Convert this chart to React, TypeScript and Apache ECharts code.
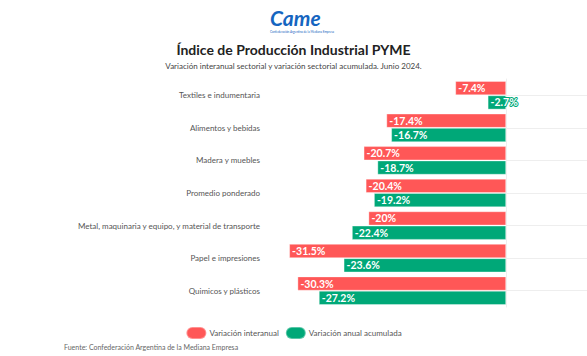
import React, { useEffect, useRef } from "react";
import * as echarts from "echarts";

const categories = [
  "Textiles e indumentaria",
  "Alimentos y bebidas",
  "Madera y muebles",
  "Promedio ponderado",
  "Metal, maquinaria y equipo, y material de transporte",
  "Papel e impresiones",
  "Quimicos y plásticos",
];
const interanual = [-7.4, -17.4, -20.7, -20.4, -20, -31.5, -30.3];
const acumulada = [-2.7, -16.7, -18.7, -19.2, -22.4, -23.6, -27.2];
const seriesNames = ["Variación interanual", "Variación anual acumulada"];
const titleText = "Índice de Producción Industrial PYME";
const subtitleText = "Variación interanual sectorial y variación sectorial acumulada. Junio 2024.";
const sourceText = "Fuente: Confederación Argentina de la Mediana Empresa";

const FONT = "Lato, 'Noto Sans', sans-serif";
const RED = "#ff5757";
const GREEN = "#00a878";

export default function App() {
  const ref = useRef<HTMLDivElement>(null);
  useEffect(() => {
    document.body.style.margin = "0";
    const chart = echarts.init(ref.current!, null, { renderer: "svg" });
    const label = (border: string) => ({
      show: true,
      position: [3, "50%"],
      verticalAlign: "middle",
      align: "left",
      color: "#fff",
      fontWeight: "bold",
      fontSize: 10.5,
      fontFamily: FONT,
      textBorderColor: border,
      textBorderWidth: 2,
      formatter: (p: any) => `${p.value}%`,
    });
    chart.setOption({
      animation: false,
      textStyle: { fontFamily: FONT },
      title: [
        {
          text: titleText,
          subtext: subtitleText,
          left: "center",
          top: 37,
          itemGap: 6,
          textStyle: { fontSize: 14, fontWeight: "bold", color: "#222", fontFamily: FONT },
          subtextStyle: { fontSize: 8, color: "#444", fontFamily: FONT },
        },
      ],
      graphic: [
        {
          type: "text",
          left: 270,
          top: 7,
          style: {
            text: "Came",
            fontSize: 21,
            fontWeight: "bold",
            fontStyle: "italic",
            fill: "#1565c0",
            fontFamily: FONT,
          },
        },
        {
          type: "text",
          left: 270,
          top: 30,
          style: {
            text: "Confederación Argentina de la Mediana Empresa",
            fontSize: 3,
            fill: "#1565c0",
            fontFamily: FONT,
          },
        },
        {
          type: "text",
          left: 64,
          top: 343,
          style: { text: sourceText, fontSize: 7, fill: "#666", fontFamily: FONT },
        },
      ],
      legend: {
        data: seriesNames,
        left: "center",
        top: 321,
        icon: "path://M6,0 H14 A6,6 0 0 1 14,12 H6 A6,6 0 0 1 6,0 Z",
        itemWidth: 20,
        itemHeight: 12,
        itemGap: 6,
        textStyle: { fontSize: 8, color: "#555", fontFamily: FONT, padding: [0, 0, 0, -2] },
      },
      grid: { left: 265, right: 67, top: 79, bottom: 49, containLabel: false },
      xAxis: {
        type: "value",
        min: -35,
        max: 2,
        show: false,
      },
      yAxis: {
        type: "category",
        data: categories,
        inverse: true,
        axisLine: { show: true, lineStyle: { color: "#eeeeee" } },
        axisTick: {
          show: true,
          alignWithLabel: true,
          inside: true,
          length: 255,
          lineStyle: { color: "#eeeeee" },
        },
        axisLabel: { fontSize: 8, color: "#555", margin: 5, fontFamily: FONT },
        splitLine: { show: false },
      },
      series: [
        {
          name: seriesNames[0],
          type: "bar",
          data: interanual,
          barGap: "0%",
          barCategoryGap: "12%",
          itemStyle: { color: RED, borderColor: "rgba(255,255,255,0.35)", borderWidth: 1 },
          label: label(RED),
        },
        {
          name: seriesNames[1],
          type: "bar",
          data: acumulada,
          itemStyle: { color: GREEN, borderColor: "rgba(255,255,255,0.35)", borderWidth: 1 },
          label: label(GREEN),
        },
      ],
    });
    return () => chart.dispose();
  }, []);
  return <div ref={ref} style={{ width: 587, height: 356 }} />;
}
